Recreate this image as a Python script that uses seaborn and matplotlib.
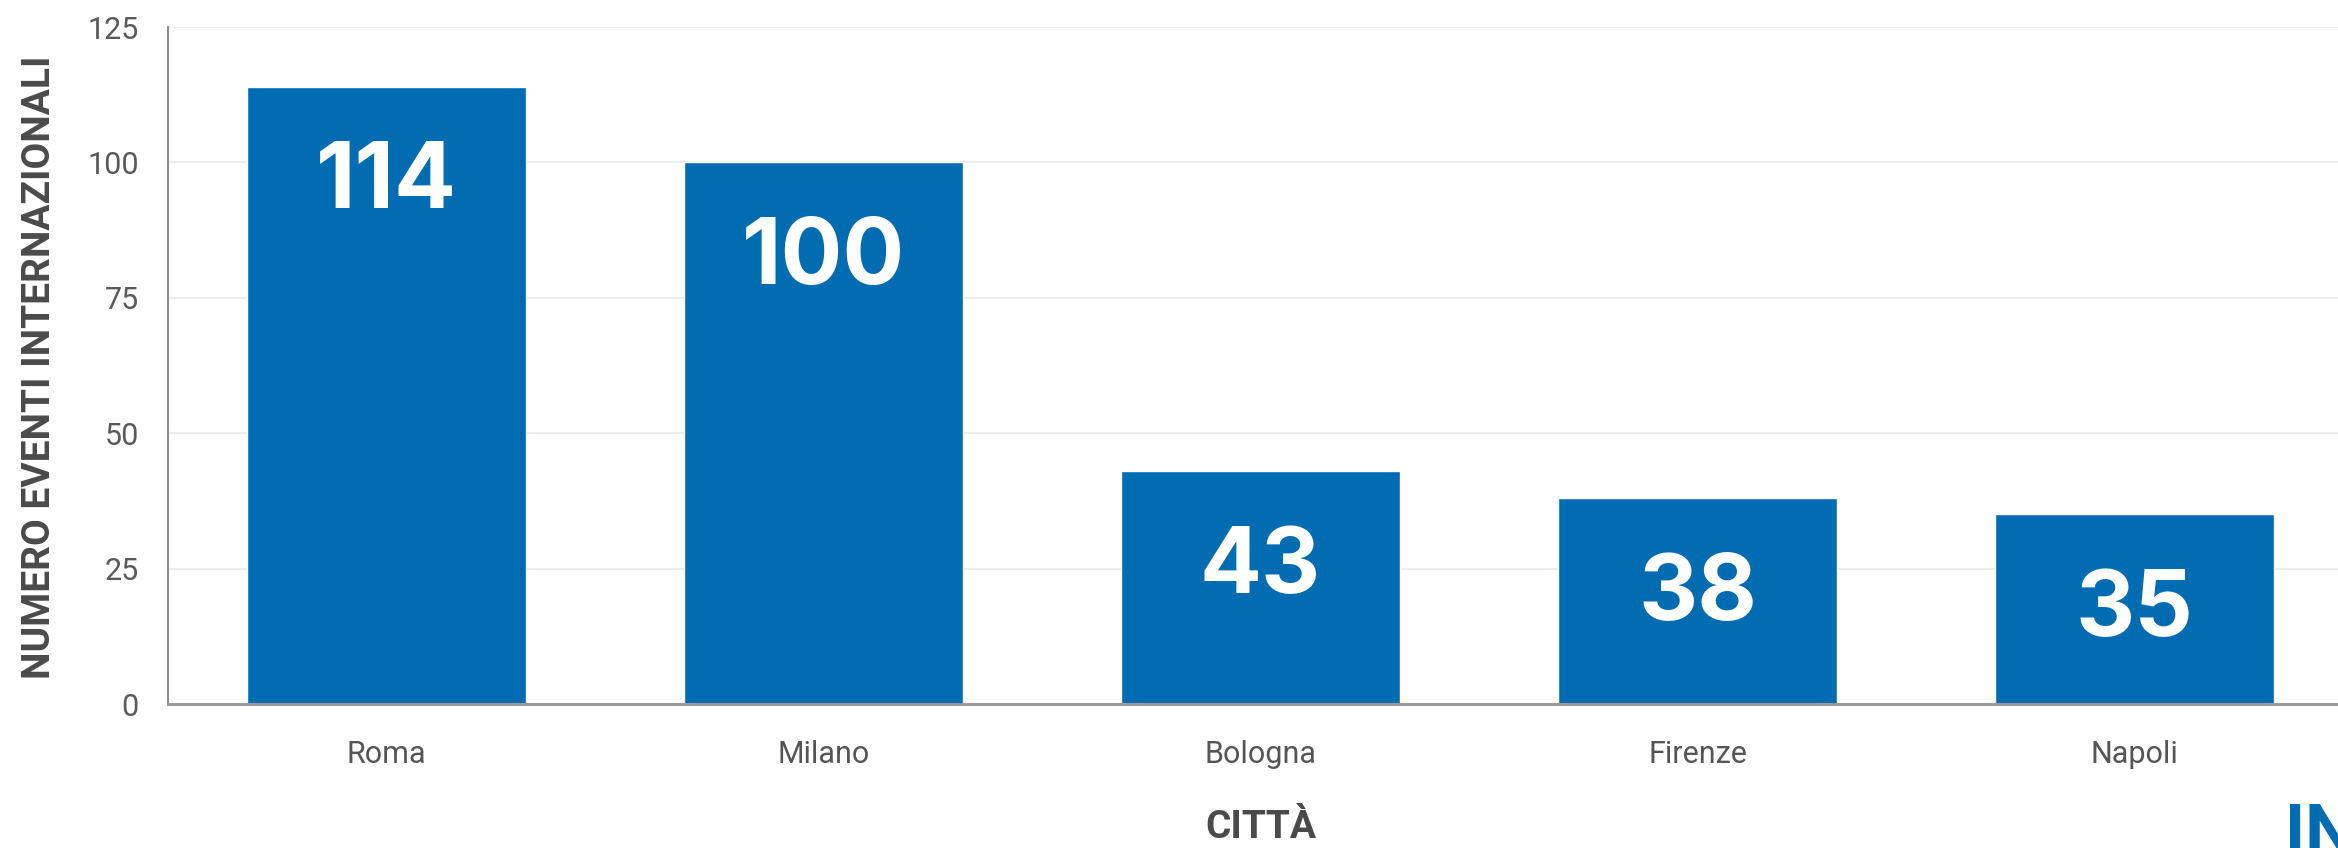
import seaborn as sns
import matplotlib.pyplot as plt
import pandas as pd

citta = ['Roma', 'Milano', 'Bologna', 'Firenze', 'Napoli']
eventi = [114, 100, 43, 38, 35]
y_ticks = [0, 25, 50, 75, 100, 125]

df = pd.DataFrame({'citta': citta, 'eventi': eventi})

sns.set_style('white')
plt.rcParams['font.family'] = ['Roboto', 'DejaVu Sans']

fig = plt.figure(figsize=(23.38, 8.48), dpi=100)
ax = fig.add_axes([168 / 2338, 144 / 848, 2185 / 2338, 677 / 848])

sns.barplot(data=df, x='citta', y='eventi', color='#016cb1', saturation=1,
            width=0.64, ax=ax, zorder=3)

ax.set_xlim(-0.5, 4.5)
ax.set_ylim(0, 125)
ax.set_yticks(y_ticks)
ax.grid(axis='y', color='#ececec', linewidth=1.5, zorder=0)
ax.grid(axis='x', visible=False)

for s in ['top', 'right']:
    ax.spines[s].set_visible(False)
ax.spines['left'].set_color('#8a8a8a')
ax.spines['left'].set_linewidth(1.4)
ax.spines['bottom'].set_color('#9a9a9a')
ax.spines['bottom'].set_linewidth(2.2)
ax.spines['bottom'].set_zorder(4)

ax.tick_params(axis='y', length=0, pad=21, labelsize=22, labelcolor='#5a5a5a')
ax.tick_params(axis='x', length=0, pad=26, labelsize=22, labelcolor='#555555')

ax.set_xlabel('CITTÀ', fontsize=28, fontweight='bold', color='#4a4a4a')
ax.set_ylabel('NUMERO EVENTI INTERNAZIONALI', fontsize=28, fontweight='bold',
              color='#4a4a4a', va='center')
ax.xaxis.set_label_coords(0.5, -0.155)
ax.yaxis.set_label_coords(-0.059, 0.497)

# etichette dei valori dentro le barre
for i, v in enumerate(eventi):
    ax.annotate(str(v), xy=(i, v), xytext=(0, -87.5), textcoords='offset points',
                ha='center', va='baseline', color='white', fontsize=66,
                fontweight='bold', family=['Inter', 'DejaVu Sans'], zorder=5)

# logo tagliato in basso a destra
fig.text(2285 / 2338, -5 / 848, 'IN', color='#016cb1', fontsize=50,
         fontweight='bold', ha='left', va='baseline')

fig.savefig('out.png', dpi=100)
